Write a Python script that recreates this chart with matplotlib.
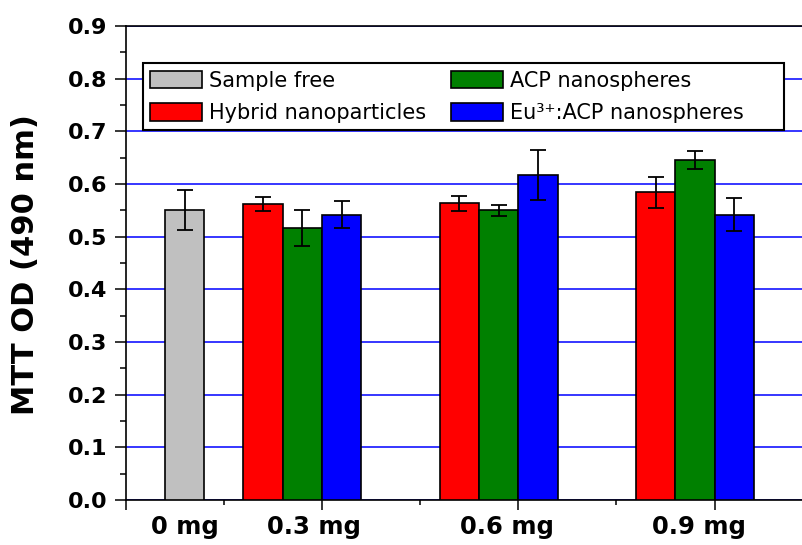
import matplotlib
matplotlib.use("Agg")
import matplotlib.pyplot as plt
from matplotlib.patches import Patch
from matplotlib.ticker import MultipleLocator

# values
dose_labels = ["0 mg", "0.3 mg", "0.6 mg", "0.9 mg"]
sample_free = [0.550]
sample_free_err = [0.038]
hybrid = [0.562, 0.563, 0.584]
hybrid_err = [0.014, 0.015, 0.030]
acp = [0.516, 0.550, 0.646]
acp_err = [0.034, 0.011, 0.017]
eu_acp = [0.542, 0.617, 0.542]
eu_acp_err = [0.025, 0.047, 0.031]

series_names = ["Sample free", "Hybrid nanoparticles", "ACP nanospheres",
                "Eu\u00b3\u207a:ACP nanospheres"]
colors = ["#C0C0C0", "#FF0000", "#008000", "#0000FF"]

# layout (Origin-like numeric x axis)
control_x = 0.3
group_x = [0.9, 1.9, 2.9]
bar_w = 0.2
label_x = [0.30, 0.96, 1.94, 2.92]

W, H = 803, 545
fig = plt.figure(figsize=(W / 100, H / 100), dpi=100)
x_max = 3.6
ax = fig.add_axes([125.7 / W, 45 / H, x_max * 196.3 / W, 474 / H])

err_kw = dict(ecolor="black", elinewidth=1.3, capsize=6, capthick=1.3)
edge = dict(edgecolor="black", linewidth=1.2, zorder=3)

ax.bar([control_x], sample_free, bar_w, color=colors[0],
       yerr=sample_free_err, error_kw=err_kw, **edge)
for k, (vals, errs) in enumerate([(hybrid, hybrid_err), (acp, acp_err),
                                  (eu_acp, eu_acp_err)]):
    xs = [g + (k - 1) * bar_w for g in group_x]
    ax.bar(xs, vals, bar_w, color=colors[k + 1], yerr=errs,
           error_kw=err_kw, **edge)

ax.set_xlim(0, x_max)
ax.set_ylim(0, 0.9)
ax.yaxis.set_major_locator(MultipleLocator(0.1))
ax.yaxis.set_minor_locator(MultipleLocator(0.05))
ax.xaxis.set_major_locator(MultipleLocator(1))
ax.xaxis.set_minor_locator(MultipleLocator(0.5))
ax.set_xticklabels([])

ax.yaxis.grid(True, color="#0000FF", linewidth=1.1, zorder=0)
ax.set_axisbelow(True)

ax.tick_params(axis="y", which="major", direction="out", length=8, width=1.1,
               pad=5, labelsize=16)
ax.tick_params(axis="y", which="minor", direction="out", length=4.3, width=1.1)
ax.tick_params(axis="x", which="major", direction="out", length=7, width=1.1)
ax.tick_params(axis="x", which="minor", direction="out", length=3.5, width=1.1)
for lab in ax.get_yticklabels():
    lab.set_fontweight("bold")

for s in ["left", "bottom", "top"]:
    ax.spines[s].set_linewidth(1.2)
ax.spines["right"].set_visible(False)

for x, lab in zip(label_x, dose_labels):
    ax.annotate(lab, xy=(x, 0), xycoords=("data", "axes fraction"),
                xytext=(0, -11), textcoords="offset points",
                ha="center", va="top", fontsize=17.5, fontweight="bold")

ax.set_ylabel("MTT OD (490 nm)", fontsize=22, fontweight="bold")
ax.yaxis.set_label_coords(-0.121, 0.497)

# trailing spaces keep the right column clear of the frame, as in the reference
leg_labels = series_names[:3] + [series_names[3] + "     "]
handles = [Patch(facecolor=c, edgecolor="black", linewidth=1.2) for c in colors]
leg = fig.legend(handles, leg_labels, ncol=2, mode="expand",
                 loc="upper left",
                 bbox_to_anchor=(142.7 / W, 1 - 63.3 / H,
                                 (784.3 - 142.7) / W, 0.0),
                 fontsize=15, frameon=True, fancybox=False,
                 borderpad=0.35, labelspacing=0.6, handlelength=2.5,
                 handleheight=0.9, handletextpad=0.35, columnspacing=0.7,
                 borderaxespad=0)
leg.get_frame().set_edgecolor("black")
leg.get_frame().set_linewidth(1.5)
leg.get_frame().set_alpha(1)

fig.savefig("out.png", dpi=100)
